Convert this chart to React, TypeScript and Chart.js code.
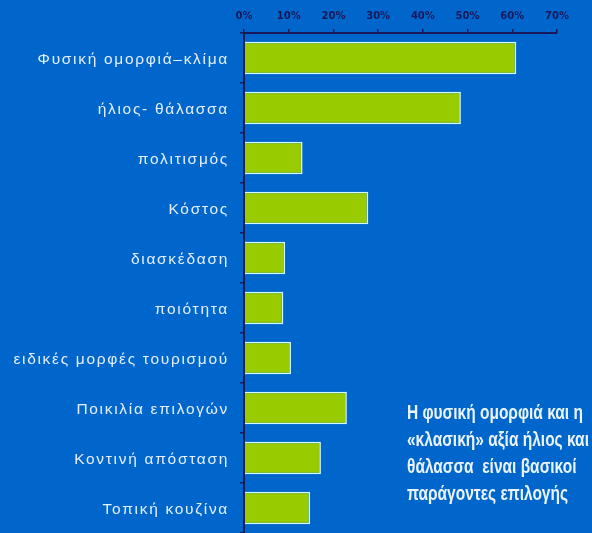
import React, { useEffect, useRef } from "react";
import { Chart, registerables } from "chart.js";

Chart.register(...registerables);

const categories: string[] = [
  "Φυσική ομορφιά–κλίμα",
  "ήλιος- θάλασσα",
  "πολιτισμός",
  "Κόστος",
  "διασκέδαση",
  "ποιότητα",
  "ειδικές μορφές τουρισμού",
  "Ποικιλία επιλογών",
  "Κοντινή απόσταση",
  "Τοπική κουζίνα",
];

const shares: number[] = [0.609, 0.485, 0.131, 0.278, 0.092, 0.088, 0.105, 0.23, 0.172, 0.148];

const axisMax = 0.7;
const axisStep = 0.1;

const noteLines: string[] = [
  "Η φυσική ομορφιά και η",
  "«κλασική» αξία ήλιος και",
  "θάλασσα  είναι βασικοί",
  "παράγοντες επιλογής",
];

const BG = "#0066cc";
const NAVY = "#16195a";

export default function App() {
  const canvasRef = useRef<HTMLCanvasElement | null>(null);

  useEffect(() => {
    document.body.style.margin = "0";
    document.body.style.background = BG;
    const canvas = canvasRef.current;
    if (!canvas) return;

    const bgPlugin = {
      id: "bg",
      beforeDraw(chart: any) {
        const ctx = chart.ctx;
        ctx.save();
        ctx.fillStyle = BG;
        ctx.fillRect(0, 0, chart.width, chart.height);
        ctx.restore();
      },
    };

    const labelPlugin = {
      id: "labels",
      afterDraw(chart: any) {
        const ctx = chart.ctx as CanvasRenderingContext2D;
        const yScale = chart.scales.y;
        ctx.save();
        (ctx as any).letterSpacing = "1.7px";
        ctx.font = "15.5px 'Liberation Sans', Arial, sans-serif";
        ctx.fillStyle = "#e4f0ff";
        ctx.textAlign = "right";
        ctx.textBaseline = "middle";
        categories.forEach((c, i) => {
          const y = yScale.getPixelForTick(i);
          ctx.fillText(c, 229, y + 1.5);
        });
        ctx.restore();

        ctx.save();
        (ctx as any).letterSpacing = "0px";
        ctx.font = "bold 20px 'Liberation Sans', Arial, sans-serif";
        ctx.textAlign = "left";
        ctx.textBaseline = "alphabetic";
        ctx.fillStyle = "#eaf4ff";
        const sx = 0.775;
        ctx.translate(407, 0);
        ctx.scale(sx, 1);
        noteLines.forEach((t, i) => {
          ctx.fillText(t, 0, 419 + i * 27);
        });
        ctx.restore();
      },
    };

    const chart = new Chart(canvas, {
      type: "bar",
      data: {
        labels: categories,
        datasets: [
          {
            data: shares,
            backgroundColor: "#99cc00",
            borderColor: "#d4fbff",
            borderWidth: 1.6,
            barPercentage: 0.65,
            categoryPercentage: 1,
          },
        ],
      },
      options: {
        indexAxis: "y",
        responsive: true,
        maintainAspectRatio: false,
        animation: false,
        layout: { padding: { left: 0, right: 35, top: 0, bottom: 0 } },
        plugins: {
          legend: { display: false },
          tooltip: { enabled: false },
        },
        scales: {
          x: {
            position: "top",
            min: 0,
            max: axisMax,
            ticks: {
              stepSize: axisStep,
              padding: 7,
              color: NAVY,
              font: { size: 10, weight: "bold", family: "'DejaVu Sans', sans-serif" },
              callback: (v: any) => Math.round(Number(v) * 100) + "%",
            },
            grid: { drawOnChartArea: false, drawTicks: true, tickLength: 4, color: NAVY, lineWidth: 1.5 },
            border: { color: NAVY, width: 2 },
            afterFit: (s: any) => {
              s.height = 33;
            },
          },
          y: {
            ticks: { display: false },
            grid: { drawOnChartArea: false, drawTicks: true, tickLength: 4, color: NAVY, lineWidth: 1.5, offset: true },
            border: { color: NAVY, width: 2 },
            afterFit: (s: any) => {
              s.width = 244;
            },
          },
        },
      } as any,
      plugins: [bgPlugin, labelPlugin],
    });

    return () => chart.destroy();
  }, []);

  return (
    <div style={{ position: "absolute", left: 0, top: 0, width: 592, height: 533 }}>
      <canvas ref={canvasRef} />
    </div>
  );
}
